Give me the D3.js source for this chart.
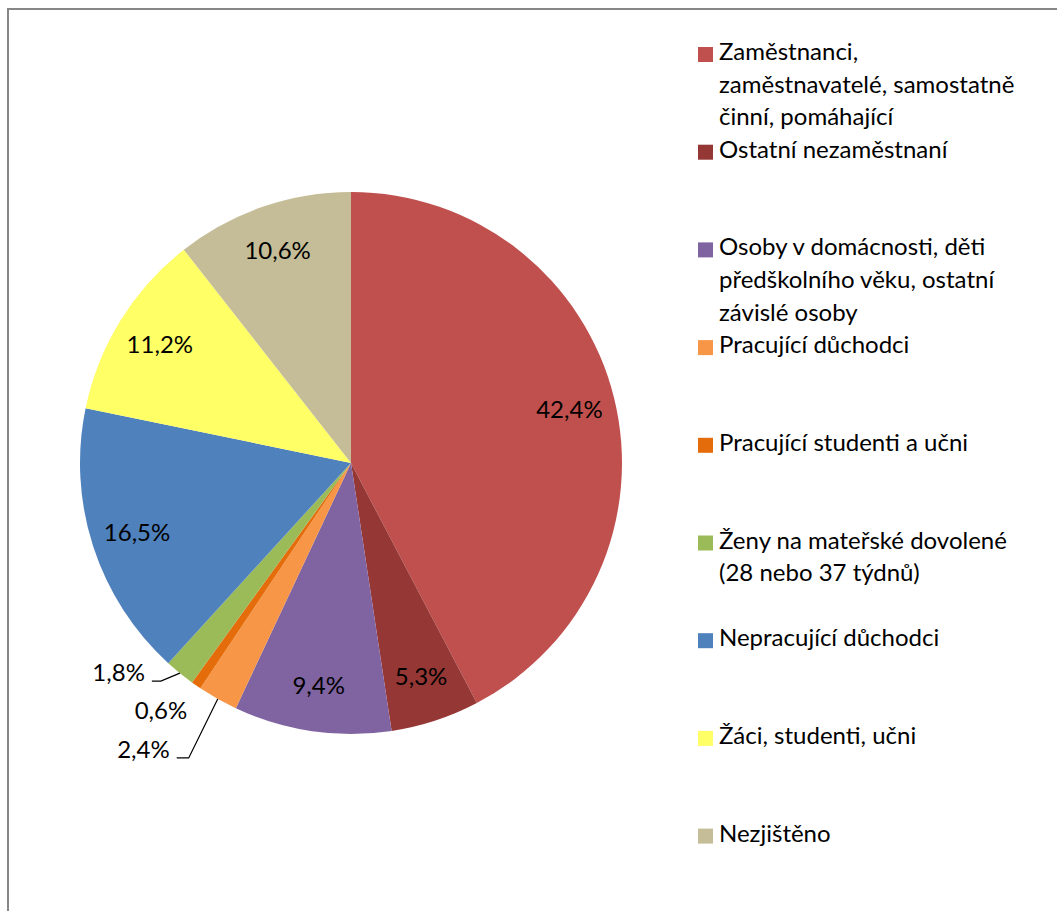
<!DOCTYPE html>
<html>
<head>
<meta charset="utf-8">
<script src="https://cdn.jsdelivr.net/npm/d3@7"></script>
<style>
  body { margin: 0; background: #fff; }
  text { font-family: Lato, "Open Sans", sans-serif; }
</style>
</head>
<body>
<div id="chart"></div>
<script>
// data
var categories = [
    "Zaměstnanci,\nzaměstnavatelé, samostatně\nčinní, pomáhající",
    "Ostatní nezaměstnaní",
    "Osoby v domácnosti, děti\npředškolního věku, ostatní\nzávislé osoby",
    "Pracující důchodci",
    "Pracující studenti a učni",
    "Ženy na mateřské dovolené\n(28 nebo 37 týdnů)",
    "Nepracující důchodci",
    "Žáci, studenti, učni",
    "Nezjištěno"
];
var values = [42.4, 5.3, 9.4, 2.4, 0.6, 1.8, 16.5, 11.2, 10.6];
var colors = ["#C0504D", "#953735", "#8064A2", "#F79646", "#E46C0A",
              "#9BBB59", "#4F81BD", "#FFFF66", "#C4BD97"];

function init(){

    var w = 1057;
    var h = 911;
    var cx = 351, cy = 463;
    var outerRadius = 271;
    var fontSize = 24;

    // small slices get their labels outside, with a leader line
    // offsets are from the slice's point on the circle
    var callouts = {
        3: {dx: -48, dy: 59, knee: -29},
        4: {dx: -9,  dy: 34, knee: null},
        5: {dx: -35, dy: 8,  knee: -19}
    };

    var cz = d3.formatLocale({decimal: ",", thousands: " ", grouping: [3], currency: ["", " Kč"]});
    var fmt = cz.format(".1f");

    var pie = d3.pie().sort(null).value(d => d);
    var arcs = pie(values);

    var arc = d3.arc()
                .innerRadius(0)
                .outerRadius(outerRadius);
    var labelArc = d3.arc()
                .innerRadius(outerRadius * 0.83)
                .outerRadius(outerRadius * 0.83);
    var edgeArc = d3.arc()
                .innerRadius(outerRadius)
                .outerRadius(outerRadius);

    var svg = d3.select("#chart")
                .append("svg")
                .attr("width", w)
                .attr("height", h);

    // chart frame (runs off the right and bottom)
    svg.append("rect")
        .attr("x", 8)
        .attr("y", 9)
        .attr("width", w + 20)
        .attr("height", h + 20)
        .attr("fill", "none")
        .attr("stroke", "#878787")
        .attr("stroke-width", 2);

    var g = svg.append("g")
        .attr("transform", "translate(" + cx + "," + cy + ")");

    g.selectAll("path.slice")
        .data(arcs)
        .enter()
        .append("path")
        .attr("class", "slice")
        .attr("fill", (d, i) => colors[i])
        .attr("d", arc);

    // inside labels
    g.selectAll("text.inside")
        .data(arcs.filter((d, i) => !callouts[i]))
        .enter()
        .append("text")
        .attr("class", "inside")
        .attr("transform", d => "translate(" + labelArc.centroid(d) + ")")
        .attr("text-anchor", "middle")
        .attr("dy", "0.36em")
        .attr("font-size", fontSize)
        .attr("fill", "#000")
        .text(d => fmt(d.value) + "%");

    // outside labels + leader lines
    arcs.forEach(function(d, i){
        var c = callouts[i];
        if (!c) return;
        var p = edgeArc.centroid(d);
        var lx = p[0] + c.dx, ly = p[1] + c.dy;
        g.append("text")
            .attr("x", lx)
            .attr("y", ly)
            .attr("text-anchor", "end")
            .attr("font-size", fontSize)
            .attr("fill", "#000")
            .text(fmt(d.value) + "%");
        if (c.knee !== null) {
            g.append("path")
                .attr("d", d3.line()([p, [p[0] + c.knee, ly], [lx + 7, ly]]))
                .attr("fill", "none")
                .attr("stroke", "#000")
                .attr("stroke-width", 1.2);
        }
    });

    // legend
    var legend = svg.selectAll("g.legend")
        .data(categories)
        .enter()
        .append("g")
        .attr("class", "legend")
        .attr("transform", (d, i) => "translate(698," + (60 + i * 97.7) + ")");

    legend.append("rect")
        .attr("x", 0)
        .attr("y", -13)
        .attr("width", 15)
        .attr("height", 15)
        .attr("fill", (d, i) => colors[i]);

    legend.append("text")
        .attr("font-size", fontSize)
        .attr("fill", "#000")
        .selectAll("tspan")
        .data(d => d.split("\n"))
        .enter()
        .append("tspan")
        .attr("x", 21)
        .attr("y", (d, j) => j * 32.7)
        .text(d => d);
}

init();
</script>
</body>
</html>
